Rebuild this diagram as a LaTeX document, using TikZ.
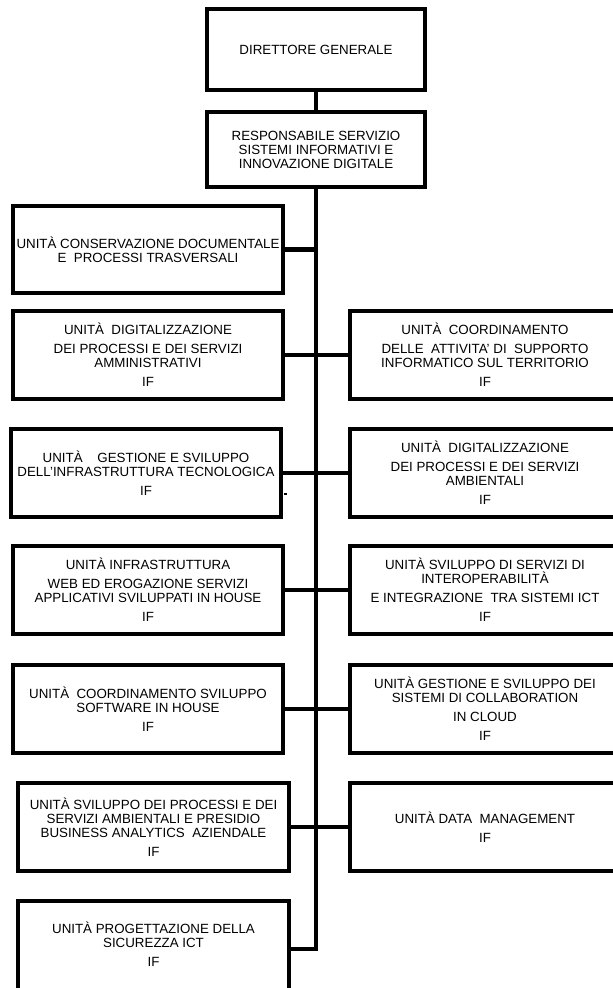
\documentclass[tikz,border=0pt]{standalone}
\usepackage{fontspec}
\setmainfont{Liberation Sans}
\begin{document}
\begin{tikzpicture}[x=0.75pt,y=-0.75pt,
  boxline/.style={line width=3.2pt},
  link/.style={line width=3.2pt},
  unit/.style={draw, line width=3.2pt, inner sep=0pt, outer sep=0pt, align=center,
    font=\fontsize{10pt}{10.5pt}\selectfont, minimum width=202.5pt, minimum height=66pt}]
\useasboundingbox (0,0) rectangle (613,988);
\clip (0,0) rectangle (613,988);
\def\gap{3.75pt}
\node[unit, minimum width=163.5pt, minimum height=60.75pt] (dg) at (316,49.5) {DIRETTORE GENERALE};
\node[unit, minimum width=163.5pt, minimum height=56.25pt] (rs) at (316,149.5) {RESPONSABILE SERVIZIO\\SISTEMI INFORMATIVI E\\INNOVAZIONE DIGITALE};
\node[unit, minimum height=65.25pt] (l1) at (148,249.5) {UNITÀ CONSERVAZIONE DOCUMENTALE\\E\ \ PROCESSI TRASVERSALI};
\node[unit] (l2) at (148,355) {UNITÀ\ \ DIGITALIZZAZIONE\\[\gap]DEI PROCESSI E DEI SERVIZI\\AMMINISTRATIVI\\[\gap]IF};
\node[unit] (r1) at (485,355) {UNITÀ\ \ COORDINAMENTO\\[\gap]DELLE\ \ ATTIVITA’ DI\ \ SUPPORTO\\INFORMATICO SUL TERRITORIO\\[\gap]IF};
\node[unit] (l3) at (146,473) {UNITÀ\ \ \ \ GESTIONE E SVILUPPO\\DELL’INFRASTRUTTURA TECNOLOGICA\\[\gap]IF};
\node[unit] (r2) at (485,473) {UNITÀ\ \ DIGITALIZZAZIONE\\[\gap]DEI PROCESSI E DEI SERVIZI\\AMBIENTALI\\[\gap]IF};
\node[unit] (l4) at (148,590) {UNITÀ INFRASTRUTTURA\\[\gap]WEB ED EROGAZIONE SERVIZI\\APPLICATIVI SVILUPPATI IN HOUSE\\[\gap]IF};
\node[unit] (r3) at (485,590) {UNITÀ SVILUPPO DI SERVIZI DI\\INTEROPERABILITÀ\\[\gap]E INTEGRAZIONE\ \ TRA SISTEMI ICT\\[\gap]IF};
\node[unit] (l5) at (148,709) {UNITÀ\ \ COORDINAMENTO SVILUPPO\\SOFTWARE IN HOUSE\\[\gap]IF};
\node[unit] (r4) at (485,709) {UNITÀ GESTIONE E SVILUPPO DEI\\SISTEMI DI COLLABORATION\\[\gap]IN CLOUD\\[\gap]IF};
\node[unit, minimum width=203.25pt] (l6) at (153.5,827) {UNITÀ SVILUPPO DEI PROCESSI E DEI\\SERVIZI AMBIENTALI E PRESIDIO\\BUSINESS ANALYTICS\ \ AZIENDALE\\[\gap]IF};
\node[unit] (r5) at (485,827) {UNITÀ DATA\ \ MANAGEMENT\\[\gap]IF};
\node[unit, draw=none, minimum width=203.25pt, minimum height=65.25pt] (l7) at (153.5,944.5) {UNITÀ PROGETTAZIONE DELLA\\SICUREZZA ICT\\[\gap]IF};
\draw[boxline] ([yshift=-30pt]l7.south west) |- (l7.north east) -- ([yshift=-30pt]l7.south east);
\coordinate (tend) at (316,949);
\draw[link] (dg.south) -- (rs.north);
\draw[link] (rs.south) -- (tend) -- (tend -| l7.east);
\draw[link] (l1.east) -- (l1.east -| rs.south);
\draw[link] (l2.east) -- (r1.west);
\draw[link] (l3.east) -- (r2.west);
\draw[link] (l4.east) -- (r3.west);
\draw[link] (l5.east) -- (r4.west);
\draw[link] (l6.east) -- (r5.west);
\draw[line width=0.8pt] (284,494) -- (287,494);
\end{tikzpicture}
\end{document}
